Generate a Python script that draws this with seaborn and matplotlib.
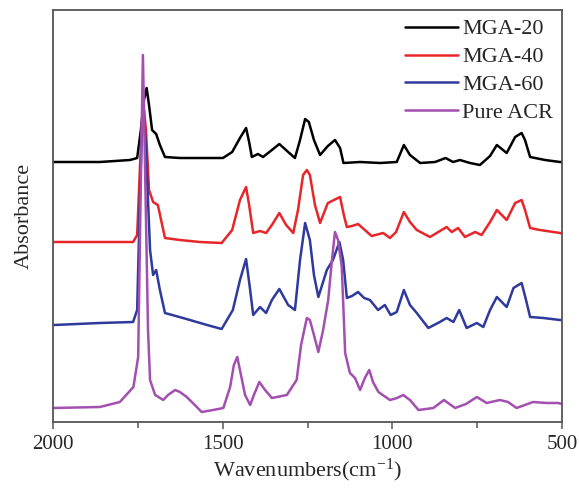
import numpy as np
import pandas as pd
import matplotlib
matplotlib.use("Agg")
import matplotlib.pyplot as plt
from matplotlib.ticker import FixedLocator
from matplotlib.lines import Line2D
import seaborn as sns

# ---------------- data ----------------
samples = ["MGA-20", "MGA-40", "MGA-60", "Pure ACR"]
colors = ["#000000", "#e8262a", "#2e3a9c", "#a24fb0"]
offsets = [2.60, 1.80, 0.97, 0.14]

wn_mga20 = [2000, 1997, 1862, 1773, 1752, 1741, 1732, 1724, 1717, 1708, 1696, 1685, 1670, 1626, 1567,
            1499, 1472, 1449, 1431, 1422, 1414, 1396, 1381, 1355, 1333, 1307, 1287, 1272, 1257, 1246,
            1231, 1213, 1190, 1169, 1154, 1144, 1095, 1036, 987, 966, 948, 918, 874, 843, 821, 801,
            771, 742, 712, 692, 663, 638, 619, 609, 594, 550, 506, 500]
abs_mga20 = [0.00, 0.00, 0.00, 0.02, 0.04, 0.32, 0.62, 0.74, 0.57, 0.32, 0.28, 0.17, 0.05, 0.04, 0.04,
             0.04, 0.10, 0.24, 0.34, 0.20, 0.05, 0.08, 0.05, 0.12, 0.18, 0.10, 0.04, 0.22, 0.43, 0.40,
             0.22, 0.07, 0.16, 0.22, 0.14, -0.01, 0.00, -0.01, 0.00, 0.17, 0.07, -0.01, 0.00, 0.04, 0.00, 0.02,
             -0.01, -0.03, 0.06, 0.17, 0.09, 0.25, 0.29, 0.22, 0.05, 0.02, 0.00, 0.00]

wn_mga40 = [2000, 1997, 1862, 1764, 1752, 1744, 1735, 1726, 1717, 1705, 1691, 1670, 1626, 1567, 1503,
            1472, 1449, 1431, 1422, 1410, 1390, 1372, 1355, 1333, 1313, 1292, 1278, 1263, 1252, 1243,
            1228, 1213, 1190, 1172, 1154, 1143, 1134, 1119, 1101, 1081, 1061, 1027, 1007, 989, 966,
            948, 928, 889, 840, 825, 806, 786, 756, 737, 712, 692, 663, 638, 619, 609, 594, 565, 506, 500]
abs_mga40 = [0.00, 0.00, 0.00, 0.00, 0.07, 0.72, 1.42, 1.12, 0.52, 0.40, 0.37, 0.04, 0.02, 0.00, -0.01,
             0.12, 0.42, 0.55, 0.37, 0.09, 0.11, 0.09, 0.17, 0.29, 0.17, 0.09, 0.32, 0.67, 0.72, 0.67,
             0.37, 0.19, 0.39, 0.42, 0.45, 0.27, 0.15, 0.16, 0.18, 0.12, 0.06, 0.09, 0.04, 0.10, 0.30,
             0.20, 0.12, 0.05, 0.15, 0.10, 0.14, 0.05, 0.10, 0.07, 0.20, 0.32, 0.22, 0.39, 0.42, 0.32, 0.14, 0.12, 0.09, 0.085]

wn_mga60 = [2000, 1997, 1862, 1764, 1752, 1744, 1735, 1726, 1714, 1705, 1696, 1685, 1670, 1617, 1546,
            1503, 1470, 1449, 1431, 1419, 1410, 1390, 1372, 1355, 1333, 1307, 1287, 1272, 1257, 1243,
            1231, 1218, 1193, 1175, 1156, 1145, 1134, 1119, 1101, 1083, 1066, 1042, 1022, 1005, 987,
            966, 948, 928, 894, 860, 840, 820, 803, 781, 751, 732, 712, 692, 663, 643, 619, 606, 594,
            555, 506, 500]
abs_mga60 = [0.00, 0.00, 0.02, 0.03, 0.15, 1.25, 2.30, 1.75, 0.75, 0.50, 0.55, 0.35, 0.12, 0.07, 0.00,
             -0.04, 0.15, 0.45, 0.66, 0.35, 0.10, 0.18, 0.12, 0.25, 0.36, 0.20, 0.15, 0.65, 1.02, 0.85,
             0.50, 0.28, 0.55, 0.65, 0.83, 0.65, 0.27, 0.29, 0.33, 0.27, 0.25, 0.15, 0.20, 0.10, 0.13,
             0.35, 0.20, 0.12, -0.03, 0.03, 0.07, 0.03, 0.15, -0.03, 0.02, -0.02, 0.15, 0.28, 0.18, 0.37, 0.42, 0.25, 0.08,
             0.07, 0.05, 0.05]

wn_acr = [2000, 1862, 1803, 1763, 1749, 1742, 1735, 1727, 1720, 1714, 1699, 1675, 1661, 1640, 1626,
          1606, 1582, 1562, 1528, 1498, 1478, 1467, 1457, 1446, 1434, 1419, 1408, 1392, 1375, 1355,
          1311, 1282, 1269, 1252, 1243, 1231, 1218, 1204, 1189, 1178, 1169, 1160, 1149, 1139, 1125,
          1110, 1095, 1081, 1068, 1057, 1041, 1007, 986, 968, 948, 923, 879, 848, 815, 783, 751, 722,
          683, 659, 634, 585, 545, 511, 500]
abs_acr = [0.00, 0.01, 0.06, 0.21, 0.51, 2.08, 3.53, 2.08, 0.78, 0.28, 0.13, 0.08, 0.13, 0.18, 0.16,
           0.11, 0.03, -0.04, -0.02, 0.00, 0.21, 0.43, 0.51, 0.33, 0.13, 0.03, 0.13, 0.26, 0.18, 0.10,
           0.13, 0.28, 0.63, 0.90, 0.88, 0.73, 0.56, 0.78, 1.08, 1.48, 1.76, 1.68, 1.41, 0.55, 0.35,
           0.30, 0.18, 0.30, 0.38, 0.26, 0.16, 0.08, 0.10, 0.13, 0.08, -0.02, 0.00, 0.08, 0.00, 0.04, 0.11, 0.05,
           0.08, 0.06, 0.00, 0.06, 0.05, 0.05, 0.04]

x_ticks = [2000, 1500, 1000, 500]
x_minor = [1750, 1250, 750]

wn_all = [wn_mga20, wn_mga40, wn_mga60, wn_acr]
abs_all = [abs_mga20, abs_mga40, abs_mga60, abs_acr]

frames = []
for name, wn, ab, off in zip(samples, wn_all, abs_all, offsets):
    frames.append(pd.DataFrame({"wn": wn, "absorbance": np.array(ab) + off, "sample": name}))
df = pd.concat(frames, ignore_index=True)

# ---------------- style ----------------
sns.set_style("ticks")
plt.rcParams["font.family"] = ["Liberation Serif", "DejaVu Serif"]
plt.rcParams["mathtext.fontset"] = "custom"
plt.rcParams["mathtext.rm"] = "Liberation Serif"
plt.rcParams["mathtext.it"] = "Liberation Serif:italic"

fig = plt.figure(figsize=(5.79, 4.90), dpi=100)
ax = fig.add_axes([53 / 579, 1 - 422 / 490, (562 - 53) / 579, (422 - 10) / 490])

sns.lineplot(data=df, x="wn", y="absorbance", hue="sample", hue_order=samples,
             palette=dict(zip(samples, colors)), estimator=None, sort=True,
             linewidth=1.8, ax=ax, legend=False)
for ln in ax.get_lines():
    ln.set_solid_joinstyle("round")

ax.set_xlim(2000, 500)
ax.set_ylim(0, 4.12)
ax.set_yticks([])
ax.xaxis.set_major_locator(FixedLocator(x_ticks))
ax.xaxis.set_minor_locator(FixedLocator(x_minor))
ax.set_xticklabels([str(t) for t in x_ticks])
ax.tick_params(axis="x", which="major", direction="out", length=5, width=1.1,
               color="#555555", labelsize=15, pad=4)
ax.tick_params(axis="x", which="minor", direction="out", length=4, width=1.1, color="#555555")
for s in ax.spines.values():
    s.set_visible(True)
    s.set_color("#555555")
    s.set_linewidth(1.3)

ax.set_xlabel(r"Wavenumbers(cm$^{\mathrm{-1}}$)", fontsize=16, labelpad=2)
ax.set_ylabel("Absorbance", fontsize=16, labelpad=14)

handles = [Line2D([0], [0], color=c, lw=1.8) for c in colors]
ax.legend(handles, samples, loc="upper right", bbox_to_anchor=(1.0, 1.0), frameon=False,
          fontsize=16, handlelength=2.35, handletextpad=0.2, labelspacing=0.33,
          borderaxespad=0.0)

fig.savefig("out.png", dpi=100)
